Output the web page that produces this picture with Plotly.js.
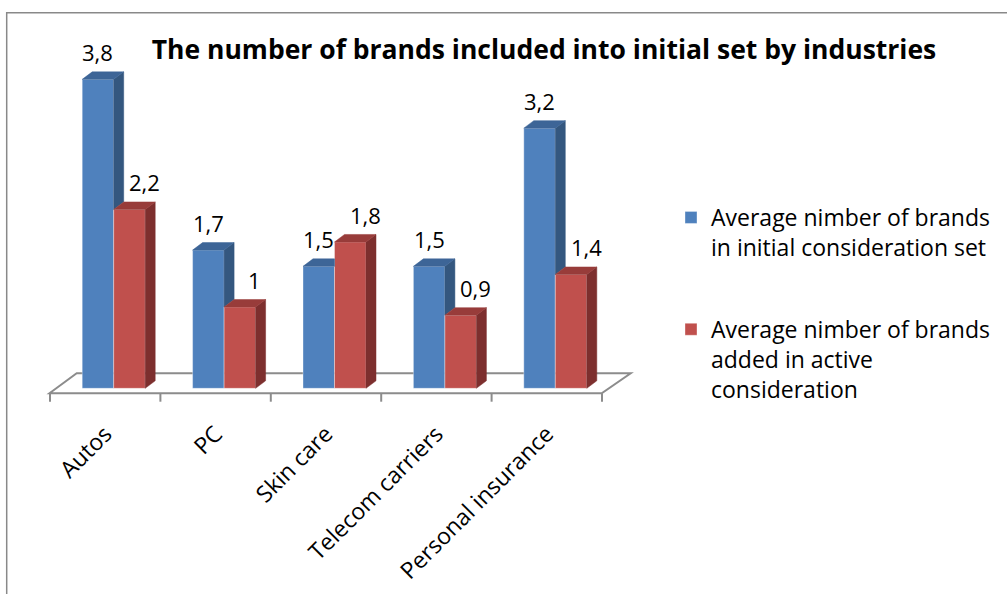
<!DOCTYPE html>
<html>
<head>
<meta charset="utf-8">
<script src="https://cdn.plot.ly/plotly-3.0.1.min.js"></script>
<style>html,body{margin:0;padding:0;background:#fff;}#chart{width:1007px;height:594px;}</style>
</head>
<body>
<div id="chart"></div>
<script>
// ---- data ----
const categories = ['Autos', 'PC', 'Skin care', 'Telecom carriers', 'Personal insurance'];
const initialSet = [3.8, 1.7, 1.5, 1.5, 3.2];
const addedActive = [2.2, 1.0, 1.8, 0.9, 1.4];
const seriesNames = [
  'Average nimber of brands<br>in initial consideration set',
  'Average nimber of brands<br>added in active<br>consideration'
];
const chartTitle = 'The number of brands included into initial set by industries';

// ---- geometry / style ----
const W = 1007, H = 594;
const ml = 50, mt = 40, pw = 552, ph = 353;
const mr = W - ml - pw, mb = H - mt - ph;
const pxPerX = pw / 5;             // x range [-0.5, 4.5]
const pxPerY = 81.3;
const yMin = -(393 - 388.3) / pxPerY;
const yMax = yMin + ph / pxPerY;
const barW = 31.5 / pxPerX;
const shift = 8.5 / pxPerX;
const dx = 10 / pxPerX, dy = 7.5 / pxPerY;
const FONT = 'Open Sans';
const colFront = ['#4F81BD', '#C0504D'];
const colSide = ['#34577F', '#7D2F2E'];
const colTop = ['#3D6597', '#983C3A'];

const idx = categories.map((c, i) => i);
const px2x = p => (p - ml) / pw;
const py2y = p => (mt + ph - p) / ph;

function fmt(v) { return String(v).replace('.', ','); }

const traces = [];
// front faces
const offsets = [shift - barW, shift];
[initialSet, addedActive].forEach((vals, s) => {
  traces.push({
    type: 'bar', x: idx, y: vals, name: seriesNames[s],
    width: barW, offset: offsets[s],
    marker: {color: colFront[s], line: {color: 'rgba(255,255,255,0.45)', width: 0.8}},
    legendgroup: 'g' + s, hoverinfo: 'y'
  });
});

// 3D faces computed from data
function faces(s) {
  const vals = s === 0 ? initialSet : addedActive;
  const sx = [], sy = [], tx = [], ty = [];
  vals.forEach((v, i) => {
    const xl = i + offsets[s], xr = xl + barW;
    let bottom = 0;
    let topRight = xr + dx;
    if (s === 0) {
      const vr = addedActive[i];
      bottom = Math.min(vr, v);
      if (vr > v) topRight = xr;
    }
    if (bottom < v) {
      sx.push(xr, xr, xr + dx, xr + dx, xr, null);
      sy.push(bottom, v, v + dy, bottom + dy, bottom, null);
    }
    tx.push(xl, xl + dx, topRight, xr, xl, null);
    ty.push(v, v + dy, v + dy, v, v, null);
  });
  return [
    {type: 'scatter', x: sx, y: sy, mode: 'lines', fill: 'toself', fillcolor: colSide[s],
     line: {width: 0.5, color: colSide[s]}, showlegend: false, hoverinfo: 'skip'},
    {type: 'scatter', x: tx, y: ty, mode: 'lines', fill: 'toself', fillcolor: colTop[s],
     line: {width: 0.5, color: colTop[s]}, showlegend: false, hoverinfo: 'skip'}
  ];
}
traces.push(...faces(0), ...faces(1));

// value labels
const annotations = [];
[initialSet, addedActive].forEach((vals, s) => {
  vals.forEach((v, i) => {
    annotations.push({
      x: i + offsets[s] + barW / 2, y: v, xref: 'x', yref: 'y',
      text: fmt(v), showarrow: false, yshift: 27, xshift: s === 0 ? 0 : 15,
      font: {family: FONT, size: 22, color: '#000'}
    });
  });
});

// floor + boundary ticks + frame
const shapes = [];
shapes.push({
  type: 'path', xref: 'paper', yref: 'paper', layer: 'below',
  path: 'M' + px2x(49.5) + ',' + py2y(393.3) + ' L' + px2x(76.7) + ',' + py2y(373.3) +
        ' L' + px2x(630.7) + ',' + py2y(373.3) + ' L' + px2x(601.7) + ',' + py2y(393.3) + ' Z',
  fillcolor: '#ffffff', line: {color: '#8C8C8C', width: 2}
});
for (let k = 0; k <= categories.length; k++) {
  shapes.push({type: 'line', xref: 'paper', yref: 'paper', x0: k / categories.length, x1: k / categories.length,
    y0: py2y(393.3), y1: py2y(401.7), line: {color: '#8C8C8C', width: 2}});
}
shapes.push({type: 'rect', xref: 'paper', yref: 'paper', layer: 'below',
  x0: px2x(6.7), x1: px2x(1012), y0: py2y(12.7), y1: py2y(600),
  line: {color: '#898989', width: 1.5}, fillcolor: 'rgba(0,0,0,0)'});

const layout = {
  width: W, height: H,
  margin: {l: ml, r: mr, t: mt, b: mb, pad: 0},
  paper_bgcolor: '#fff', plot_bgcolor: 'rgba(0,0,0,0)',
  font: {family: FONT, color: '#000'},
  title: {text: chartTitle, x: 544 / W, xanchor: 'center', xref: 'container',
          y: 1 - 50 / H, yanchor: 'middle', yref: 'container',
          font: {family: FONT, size: 26.5, weight: 700, color: '#000'}},
  barmode: 'overlay',
  xaxis: {range: [-0.5, 4.5], tickmode: 'array', tickvals: idx, ticktext: categories,
          tickangle: -45, ticks: '', showgrid: false, zeroline: false, showline: false,
          ticklabelstandoff: 22, tickfont: {family: FONT, size: 23, color: '#000'}, fixedrange: true},
  yaxis: {range: [yMin, yMax], visible: false, showgrid: false, zeroline: false, fixedrange: true},
  showlegend: true,
  legend: {xref: 'container', yref: 'container', x: 671 / W, xanchor: 'left',
           y: 1 - 196 / H, yanchor: 'top', valign: 'top', tracegroupgap: 49,
           font: {family: FONT, size: 23, color: '#000'}, bgcolor: 'rgba(0,0,0,0)'},
  shapes: shapes,
  annotations: annotations
};

Plotly.newPlot('chart', traces, layout, {displayModeBar: false, staticPlot: true});
</script>
</body>
</html>
